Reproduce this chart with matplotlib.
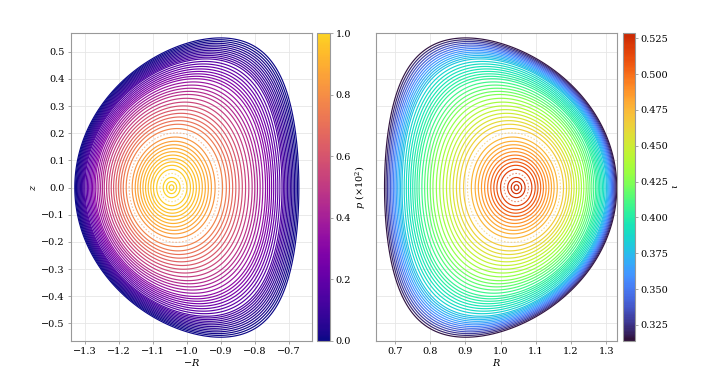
import numpy as np
import matplotlib.pyplot as plt
from matplotlib.collections import LineCollection
from matplotlib.colors import Normalize, ListedColormap

plt.rcParams['font.family'] = 'DejaVu Serif'
plt.rcParams['mathtext.fontset'] = 'dejavuserif'
plt.rcParams['font.size'] = 7

# flux surfaces (normalised minor radius) with pressure and rotational transform
rho = [0.02, 0.045, 0.075, 0.135, 0.165, 0.19, 0.215, 0.24, 0.265, 0.29,
       0.315, 0.34, 0.37, 0.43, 0.46, 0.485, 0.51, 0.535, 0.56, 0.585,
       0.61, 0.635, 0.66, 0.68, 0.70, 0.72, 0.74, 0.76, 0.775, 0.79,
       0.805, 0.82, 0.835, 0.85, 0.865, 0.88, 0.89, 0.90, 0.91, 0.92,
       0.93, 0.94, 0.95, 0.96, 0.97, 0.98, 0.99, 1.0]
pressure = [0.999, 0.997, 0.993, 0.976, 0.965, 0.953, 0.94, 0.926, 0.91, 0.892,
            0.873, 0.852, 0.826, 0.767, 0.734, 0.706, 0.676, 0.645, 0.613, 0.58,
            0.546, 0.511, 0.475, 0.446, 0.417, 0.387, 0.357, 0.326, 0.303, 0.28,
            0.257, 0.234, 0.212, 0.189, 0.166, 0.144, 0.13, 0.115, 0.101, 0.088,
            0.074, 0.061, 0.048, 0.036, 0.025, 0.015, 0.006, 0.0]
iota = [0.525, 0.524, 0.522, 0.516, 0.511, 0.506, 0.501, 0.495, 0.489, 0.486,
        0.482, 0.479, 0.476, 0.468, 0.463, 0.459, 0.455, 0.450, 0.445, 0.440,
        0.434, 0.429, 0.424, 0.420, 0.416, 0.413, 0.409, 0.406, 0.403, 0.401,
        0.398, 0.395, 0.393, 0.390, 0.385, 0.380, 0.376, 0.373, 0.369, 0.365,
        0.360, 0.354, 0.348, 0.341, 0.335, 0.328, 0.322, 0.316]

# island chains (drawn dashed)
island_rho = [0.105, 0.40]
island_p = [0.985, 0.795]
island_iota = [0.519, 0.472]

# boundary shape
R0, a0, kap0, kap1, delta0, sq0, shift = 1.0, 0.33, 1.5, 0.17, 0.30, 0.04, 0.045


def surface(r, n=600):
    th = np.linspace(0, 2 * np.pi, n)
    rc = R0 + shift * (1 - r ** 2)
    k = kap0 + kap1 * r ** 2
    d = np.arcsin(delta0 * r ** 2)
    q = sq0 * r ** 2
    R = rc + a0 * r * np.cos(th + d * np.sin(th))
    z = k * a0 * r * np.sin(th + q * np.sin(2 * th))
    return R, z


def trunc(name, hi=0.9):
    base = plt.get_cmap(name)
    return ListedColormap(base(np.linspace(0, hi, 256)))


fig = plt.figure(figsize=(7.18, 3.72), dpi=100)
ax1 = fig.add_axes([0.0985, 0.0841, 0.3357, 0.8263])
cax1 = fig.add_axes([0.442, 0.0841, 0.0177, 0.8263])
ax2 = fig.add_axes([0.5233, 0.0841, 0.3357, 0.8263])
cax2 = fig.add_axes([0.8673, 0.0841, 0.0172, 0.8263])

panels = [(ax1, cax1, -1, pressure, island_p, trunc('plasma', 0.91), Normalize(0, 1.0),
           r'$p\ (\times 10^2)$', np.arange(0, 1.01, 0.2)),
          (ax2, cax2, 1, iota, island_iota, trunc('turbo', 0.89), Normalize(0.314, 0.5285),
           r'$\iota$', np.arange(0.325, 0.526, 0.025))]

for ax, cax, sgn, vals, ivals, cmap, norm, lab, ticks in panels:
    segs = []
    for r in rho:
        R, z = surface(r)
        segs.append(np.column_stack([sgn * R, z]))
    lc = LineCollection(segs, cmap=cmap, norm=norm, linewidths=0.85)
    lc.set_array(np.array(vals))
    ax.add_collection(lc)

    isegs = []
    for r in island_rho:
        R, z = surface(r)
        isegs.append(np.column_stack([sgn * R, z]))
    ic = LineCollection(isegs, cmap=cmap, norm=norm, linewidths=0.8,
                        linestyles=(0, (1.5, 1.5)), alpha=0.55)
    ic.set_array(np.array(ivals))
    ax.add_collection(ic)

    ax.set_ylim(-0.564, 0.568)
    ax.grid(True, color='#e6e6e6', lw=0.6)
    ax.set_axisbelow(True)
    for s in ax.spines.values():
        s.set_color('#999999')
    ax.tick_params(length=2.5, width=0.6, color='#999999', pad=2)

    cb = fig.colorbar(lc, cax=cax)
    cb.set_ticks(ticks)
    cb.outline.set_edgecolor('#999999')
    cb.ax.tick_params(length=2.5, width=0.6, color='#999999', pad=1.5)
    cb.set_label(lab, labelpad=2)

cax1.set_yticklabels(['0.0', '0.2', '0.4', '0.6', '0.8', '1.0'])

ax1.set_xlim(-1.342, -0.632)
ax1.set_xticks(np.arange(-1.3, -0.65, 0.1))
ax1.set_yticks(np.arange(-0.5, 0.51, 0.1))
ax1.set_xlabel(r'$-R$', labelpad=1)
ax1.set_ylabel(r'$z$', labelpad=2)

ax2.set_xlim(0.645, 1.330)
ax2.set_xticks(np.arange(0.7, 1.31, 0.1))
ax2.set_yticks(np.arange(-0.5, 0.51, 0.1))
ax2.tick_params(left=False, labelleft=False)
ax2.set_xlabel(r'$R$', labelpad=1)

fig.savefig('out.png', dpi=100)
